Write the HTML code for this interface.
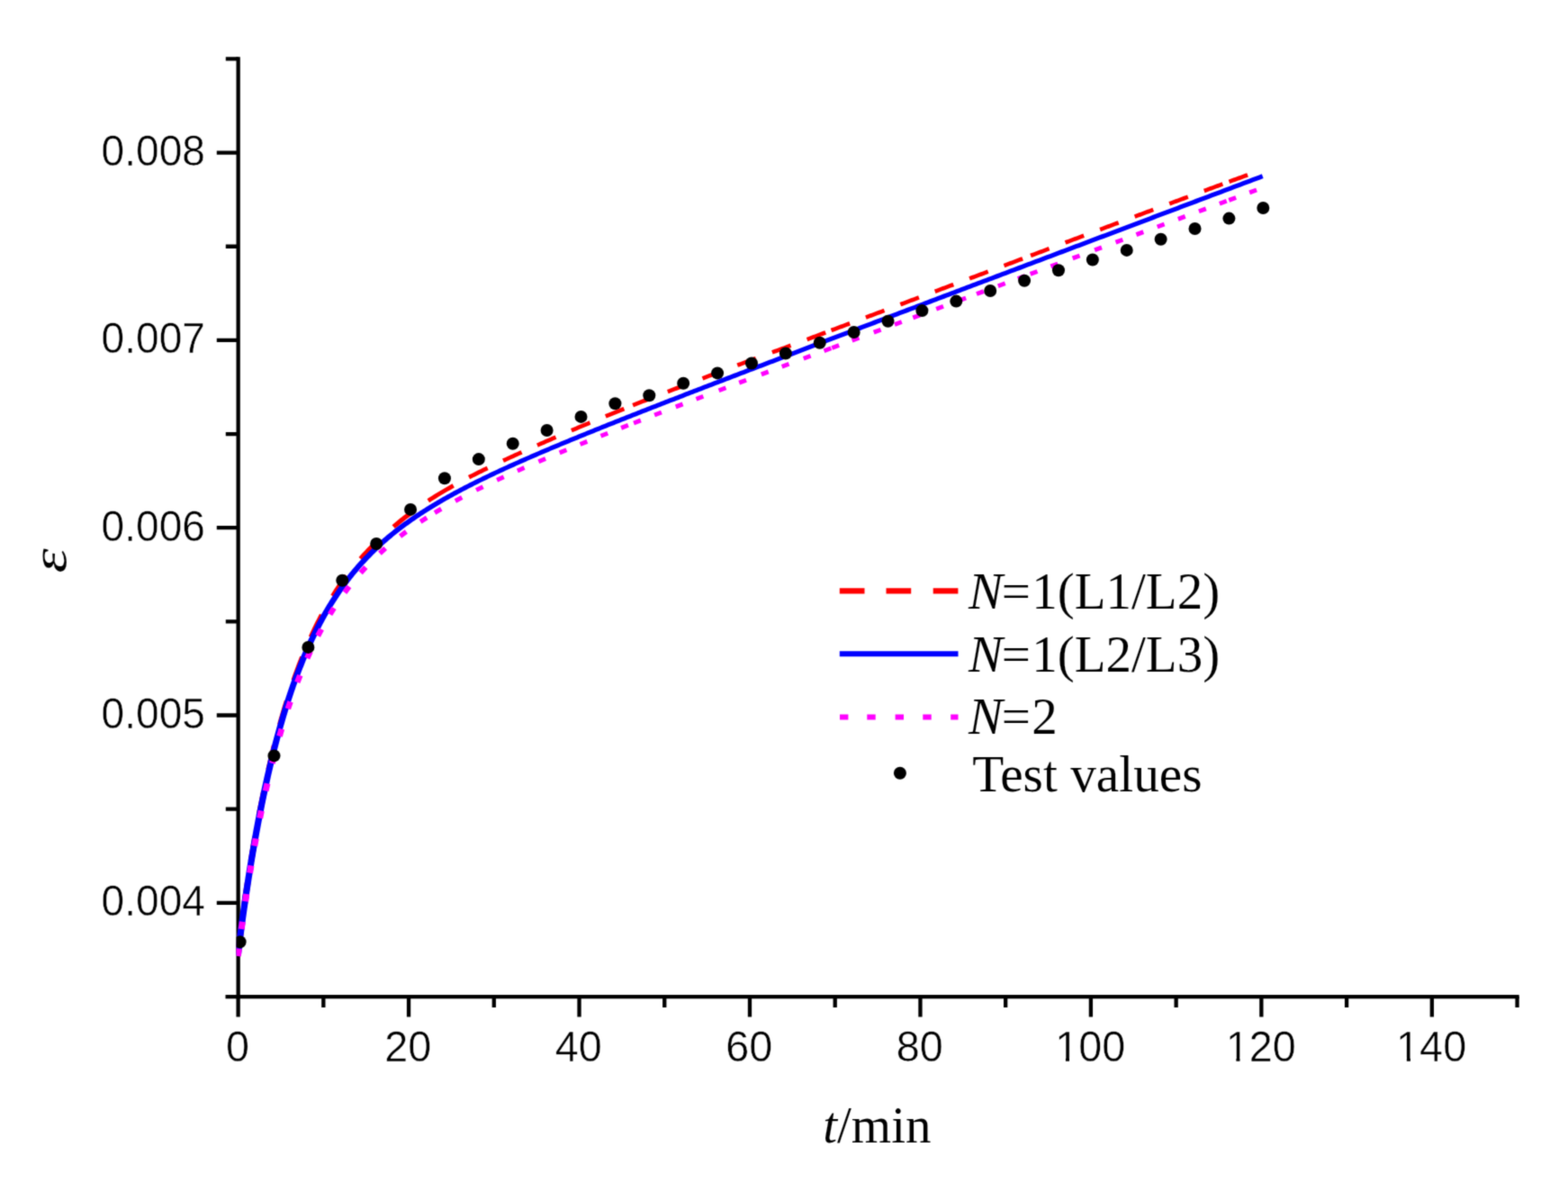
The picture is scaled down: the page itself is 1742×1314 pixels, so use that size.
<!DOCTYPE html>
<html lang="en"><head><meta charset="utf-8"><title>Creep curve fit</title>
<style>html,body{margin:0;padding:0;background:#fff}body{width:1742px;height:1314px;overflow:hidden}svg{display:block}.thin2{stroke:#fff;stroke-width:0.5px;paint-order:fill stroke;stroke-linejoin:round}.thin{stroke:#fff;stroke-width:0.1px;paint-order:fill stroke;stroke-linejoin:round}.sans{font-family:"Liberation Sans",sans-serif}.serif{font-family:"Liberation Serif",serif}</style></head><body>
<svg width="1742" height="1314" viewBox="0 0 1742 1314">
<rect width="1742" height="1314" fill="#fff"/>
<defs><clipPath id="plot"><rect x="262.6" y="60" width="1430" height="1046"/></clipPath><filter id="soft" x="0" y="0" width="1742" height="1314" filterUnits="userSpaceOnUse" color-interpolation-filters="sRGB"><feConvolveMatrix order="3" kernelMatrix="0.02890 0.11220 0.02890 0.11220 0.43560 0.11220 0.02890 0.11220 0.02890" divisor="1" edgeMode="duplicate" preserveAlpha="false"/></filter></defs>
<g filter="url(#soft)">
<rect width="1742" height="1314" fill="#fff"/>
<g stroke="#000" stroke-width="4.3" fill="none" stroke-linecap="butt">
<path d="M264.65,63.3 V1109.2"/>
<path d="M250.5,1107.05 H1687.7"/>
<path d="M240.8,1002.80 H264.65M240.8,794.50 H264.65M240.8,586.20 H264.65M240.8,377.90 H264.65M240.8,169.60 H264.65M250.8,898.65 H264.65M250.8,690.35 H264.65M250.8,482.05 H264.65M250.8,273.75 H264.65M250.8,65.45 H264.65M264.60,1107.05 V1129.6M454.06,1107.05 V1129.6M643.52,1107.05 V1129.6M832.98,1107.05 V1129.6M1022.44,1107.05 V1129.6M1211.90,1107.05 V1129.6M1401.36,1107.05 V1129.6M1590.82,1107.05 V1129.6M359.33,1107.05 V1118.9M548.79,1107.05 V1118.9M738.25,1107.05 V1118.9M927.71,1107.05 V1118.9M1117.17,1107.05 V1118.9M1306.63,1107.05 V1118.9M1496.09,1107.05 V1118.9M1685.55,1107.05 V1118.9"/>
</g>
<g class="sans thin2" font-size="48.4" fill="#000">
<text transform="translate(227.90,1017.20) scale(0.952,1)" text-anchor="end">0.004</text>
<text transform="translate(227.90,808.90) scale(0.952,1)" text-anchor="end">0.005</text>
<text transform="translate(227.90,600.60) scale(0.952,1)" text-anchor="end">0.006</text>
<text transform="translate(227.90,392.30) scale(0.952,1)" text-anchor="end">0.007</text>
<text transform="translate(227.90,184.00) scale(0.952,1)" text-anchor="end">0.008</text>
</g>
<g class="sans thin2" font-size="47.5" fill="#000">
<text transform="translate(263.90,1179.00) scale(0.985,1)" text-anchor="middle">0</text>
<text transform="translate(453.36,1179.00) scale(0.985,1)" text-anchor="middle">20</text>
<text transform="translate(642.82,1179.00) scale(0.985,1)" text-anchor="middle">40</text>
<text transform="translate(832.28,1179.00) scale(0.985,1)" text-anchor="middle">60</text>
<text transform="translate(1021.74,1179.00) scale(0.985,1)" text-anchor="middle">80</text>
<text transform="translate(1211.20,1179.00) scale(0.985,1)" text-anchor="middle">100</text>
<text transform="translate(1400.66,1179.00) scale(0.985,1)" text-anchor="middle">120</text>
<text transform="translate(1590.12,1179.00) scale(0.985,1)" text-anchor="middle">140</text>
</g>
<rect x="1174.77" y="1174.70" width="9.15" height="5.1" fill="#fff"/>
<rect x="1188.02" y="1174.70" width="9.1" height="5.1" fill="#fff"/>
<rect x="1364.23" y="1174.70" width="9.15" height="5.1" fill="#fff"/>
<rect x="1377.48" y="1174.70" width="9.1" height="5.1" fill="#fff"/>
<rect x="1553.69" y="1174.70" width="9.15" height="5.1" fill="#fff"/>
<rect x="1566.94" y="1174.70" width="9.1" height="5.1" fill="#fff"/>
<text class="serif thin" font-size="57.0" x="914.2" y="1268.5" fill="#000"><tspan font-style="italic">t</tspan>/min</text>
<text class="serif thin" font-size="57.0" font-style="italic" fill="#000" transform="translate(73.0,636.6) rotate(-90) scale(1.22,0.98)">ε</text>
<g clip-path="url(#plot)" fill="none">
<g stroke="#f00">
<path d="M558.98,511.70 L560.85,510.84 L562.73,509.97 L564.60,509.11 L566.47,508.25 L568.34,507.40 L570.22,506.54 L572.09,505.69 L573.96,504.84 L575.83,504.00 L577.71,503.15 L579.58,502.31 M596.92,494.58 L598.79,493.75 L600.67,492.93 L602.54,492.11 L604.41,491.29 L606.28,490.47 L608.16,489.65 L610.03,488.83 L611.90,488.02 L613.77,487.20 L615.65,486.39 L617.52,485.58 M634.86,478.14 L636.73,477.35 L638.61,476.55 L640.48,475.76 L642.35,474.97 L644.22,474.18 L646.10,473.39 L647.97,472.61 L649.84,471.82 L651.71,471.04 L653.59,470.26 L655.46,469.48 M672.80,462.32 L674.67,461.56 L676.55,460.80 L678.42,460.04 L680.29,459.28 L682.16,458.52 L684.04,457.77 L685.91,457.01 L687.78,456.26 L689.65,455.51 L691.53,454.76 L693.40,454.01 M703.10,450.16 L704.97,449.42 L706.85,448.68 L708.72,447.94 L710.59,447.20 L712.46,446.47 L714.34,445.73 L716.21,445.00 L718.08,444.27 L719.95,443.54 L721.83,442.81 L723.70,442.08 M741.80,435.07 L743.67,434.35 L745.55,433.63 L747.42,432.91 L749.29,432.19 L751.16,431.48 L753.04,430.76 L754.91,430.04 L756.78,429.33 L758.65,428.61 L760.53,427.90 L762.40,427.18 M780.50,420.30 L782.37,419.59 L784.25,418.88 L786.12,418.17 L787.99,417.46 L789.86,416.75 L791.74,416.04 L793.61,415.33 L795.48,414.62 L797.35,413.91 L799.23,413.20 L801.10,412.49 M819.20,405.70 L821.07,405.00 L822.95,404.30 L824.82,403.61 L826.69,402.91 L828.56,402.21 L830.44,401.52 L832.31,400.83 L834.18,400.13 L836.05,399.44 L837.93,398.75 L839.80,398.05 M857.90,391.38 L859.77,390.69 L861.65,390.00 L863.52,389.31 L865.39,388.61 L867.26,387.92 L869.14,387.23 L871.01,386.54 L872.88,385.85 L874.75,385.16 L876.63,384.46 L878.50,383.77 M896.60,377.04 L898.47,376.34 L900.35,375.63 L902.22,374.93 L904.09,374.23 L905.96,373.53 L907.84,372.83 L909.71,372.13 L911.58,371.43 L913.45,370.73 L915.33,370.03 L917.20,369.32 M923.50,366.97 L925.37,366.27 L927.25,365.57 L929.12,364.87 L930.99,364.17 L932.86,363.47 L934.74,362.77 L936.61,362.07 L938.48,361.37 L940.35,360.67 L942.23,359.97 L944.10,359.27 M961.90,352.61 L963.77,351.91 L965.65,351.21 L967.52,350.51 L969.39,349.81 L971.26,349.11 L973.14,348.41 L975.01,347.70 L976.88,347.00 L978.75,346.30 L980.63,345.60 L982.50,344.89 M1000.30,338.20 L1002.17,337.49 L1004.05,336.79 L1005.92,336.08 L1007.79,335.37 L1009.66,334.67 L1011.54,333.96 L1013.41,333.26 L1015.28,332.55 L1017.15,331.85 L1019.03,331.14 L1020.90,330.44 M1038.70,323.75 L1040.57,323.05 L1042.45,322.35 L1044.32,321.65 L1046.19,320.94 L1048.06,320.24 L1049.94,319.54 L1051.81,318.84 L1053.68,318.14 L1055.55,317.44 L1057.43,316.74 L1059.30,316.03 M1077.10,309.38 L1078.97,308.68 L1080.85,307.98 L1082.72,307.28 L1084.59,306.58 L1086.46,305.88 L1088.34,305.18 L1090.21,304.49 L1092.08,303.79 L1093.95,303.09 L1095.83,302.39 L1097.70,301.69 M1115.50,295.05 L1117.37,294.35 L1119.25,293.64 L1121.12,292.94 L1122.99,292.24 L1124.86,291.54 L1126.74,290.83 L1128.61,290.13 L1130.48,289.43 L1132.35,288.72 L1134.23,288.02 L1136.10,287.32 M1145.00,283.97 L1146.87,283.26 L1148.75,282.56 L1150.62,281.85 L1152.49,281.15 L1154.36,280.44 L1156.24,279.74 L1158.11,279.03 L1159.98,278.33 L1161.85,277.62 L1163.73,276.92 L1165.60,276.21 M1183.55,269.46 L1185.42,268.76 L1187.30,268.06 L1189.17,267.35 L1191.04,266.65 L1192.91,265.95 L1194.79,265.25 L1196.66,264.55 L1198.53,263.85 L1200.40,263.14 L1202.28,262.44 L1204.15,261.74 M1222.10,255.02 L1223.97,254.32 L1225.85,253.62 L1227.72,252.92 L1229.59,252.22 L1231.46,251.52 L1233.34,250.81 L1235.21,250.11 L1237.08,249.41 L1238.95,248.71 L1240.83,248.01 L1242.70,247.31 M1260.65,240.60 L1262.52,239.90 L1264.40,239.20 L1266.27,238.50 L1268.14,237.80 L1270.01,237.11 L1271.89,236.41 L1273.76,235.71 L1275.63,235.01 L1277.50,234.32 L1279.38,233.62 L1281.25,232.92 M1299.20,226.26 L1301.07,225.57 L1302.95,224.87 L1304.82,224.18 L1306.69,223.49 L1308.56,222.80 L1310.44,222.10 L1312.31,221.41 L1314.18,220.72 L1316.05,220.03 L1317.93,219.34 L1319.80,218.65 M1337.75,212.03 L1339.62,211.34 L1341.50,210.65 L1343.37,209.96 L1345.24,209.27 L1347.11,208.59 L1348.99,207.90 L1350.86,207.21 L1352.73,206.52 L1354.60,205.83 L1356.48,205.15 L1358.35,204.46 M1365.50,201.84 L1367.37,201.15 L1369.25,200.46 L1371.12,199.78 L1372.99,199.09 L1374.86,198.41 L1376.74,197.72 L1378.61,197.04 L1380.48,196.35 L1382.35,195.67 L1384.23,194.98 L1386.10,194.30" stroke-width="4.6"/>
<path d="M521.04,530.15 L522.91,529.19 L524.79,528.23 L526.66,527.28 L528.53,526.34 L530.40,525.40 L532.28,524.47 L534.15,523.54 L536.02,522.62 L537.89,521.71 L539.77,520.80 L541.64,519.89" stroke-width="4.7"/>
<path d="M475.80,556.26 L478.34,554.61 L480.87,552.99 L483.41,551.39 L485.95,549.82 L488.48,548.27 L491.02,546.74 L493.55,545.23 L496.09,543.75 L498.63,542.30 L501.16,540.86 L503.70,539.44" stroke-width="4.8"/>
<path d="M437.20,585.11 L438.95,583.62 L440.71,582.15 L442.46,580.70 L444.22,579.26 L445.97,577.85 L447.73,576.46 L449.48,575.08 L451.24,573.73 L452.99,572.38 L454.75,571.06 L456.50,569.74" stroke-width="5.2"/>
<path d="M400.60,620.79 L402.32,618.86 L404.04,616.96 L405.75,615.10 L407.47,613.26 L409.19,611.46 L410.91,609.68 L412.63,607.93 L414.35,606.20 L416.06,604.50 L417.78,602.82 L419.50,601.16" stroke-width="5.5"/>
<path d="M369.84,662.28 L371.24,660.04 L372.64,657.85 L374.04,655.69 L375.44,653.56 L376.84,651.47 L378.24,649.42 L379.64,647.40 L381.05,645.41 L382.45,643.46 L383.85,641.54 L385.25,639.65" stroke-width="5.8"/>
<path d="M345.66,707.83 L346.76,705.42 L347.87,703.04 L348.97,700.71 L350.08,698.40 L351.19,696.13 L352.29,693.89 L353.40,691.68 L354.50,689.51 L355.61,687.36 L356.71,685.25 L357.82,683.16" stroke-width="6.1"/>
<path d="M326.56,755.74 L327.44,753.25 L328.31,750.79 L329.19,748.36 L330.06,745.97 L330.94,743.60 L331.82,741.26 L332.69,738.95 L333.57,736.67 L334.44,734.41 L335.32,732.19 L336.19,729.99" stroke-width="6.3"/>
<path d="M311.23,805.00 L311.93,802.47 L312.64,799.97 L313.35,797.50 L314.05,795.05 L314.76,792.62 L315.47,790.23 L316.17,787.86 L316.88,785.51 L317.59,783.19 L318.29,780.90 L319.00,778.62" stroke-width="6.4"/>
<path d="M298.65,855.04 L299.23,852.50 L299.82,849.97 L300.40,847.47 L300.98,845.00 L301.56,842.55 L302.15,840.12 L302.73,837.71 L303.31,835.32 L303.90,832.96 L304.48,830.62 L305.06,828.30" stroke-width="6.6"/>
<path d="M264.58,1058.52 L264.88,1055.85 L265.18,1053.23 L265.49,1050.65 L265.79,1048.11 L266.09,1045.60 L266.40,1043.13 L266.70,1040.70 L267.01,1038.29 L267.31,1035.91 L267.61,1033.55 L267.92,1031.22 M271.19,1007.34 L271.55,1004.78 L271.92,1002.23 L272.29,999.70 L272.66,997.20 L273.03,994.71 L273.39,992.24 L273.76,989.79 L274.13,987.35 L274.50,984.93 L274.87,982.53 L275.23,980.14 M279.04,956.34 L279.46,953.79 L279.89,951.26 L280.31,948.74 L280.73,946.24 L281.16,943.76 L281.58,941.30 L282.00,938.85 L282.43,936.43 L282.85,934.01 L283.27,931.62 L283.70,929.24 M288.09,905.55 L288.58,903.00 L289.07,900.47 L289.57,897.96 L290.06,895.47 L290.55,893.00 L291.04,890.55 L291.53,888.11 L292.03,885.70 L292.52,883.31 L293.01,880.94 L293.50,878.58" stroke-width="6.7"/>
</g>
<path d="M260.72,1060.59 L260.72,1060.58 L260.73,1060.56 L260.73,1060.53 L260.74,1060.47 L260.75,1060.40 L260.76,1060.31 L260.77,1060.19 L260.78,1060.06 L260.80,1059.90 L260.82,1059.72 L260.85,1059.52 L260.87,1059.30 L260.90,1059.05 L260.93,1058.78 L260.97,1058.49 L261.00,1058.17 L261.04,1057.83 L261.09,1057.46 L261.13,1057.07 L261.18,1056.65 L261.23,1056.21 L261.29,1055.75 L261.35,1055.26 L261.41,1054.74 L261.47,1054.20 L261.54,1053.64 L261.61,1053.05 L261.69,1052.43 L261.76,1051.79 L261.84,1051.13 L261.93,1050.44 L262.01,1049.73 L262.10,1048.99 L262.20,1048.22 L262.30,1047.44 L262.40,1046.62 L262.50,1045.79 L262.61,1044.93 L262.72,1044.04 L262.83,1043.13 L262.95,1042.20 L263.07,1041.25 L263.20,1040.27 L263.32,1039.26 L263.46,1038.24 L263.59,1037.19 L263.73,1036.11 L263.87,1035.02 L264.02,1033.90 L264.17,1032.76 L264.32,1031.59 L264.48,1030.40 L264.64,1029.19 L264.80,1027.96 L264.97,1026.71 L265.14,1025.43 L265.32,1024.14 L265.50,1022.82 L265.68,1021.48 L265.87,1020.12 L266.06,1018.73 L266.25,1017.33 L266.45,1015.91 L266.65,1014.46 L266.86,1012.99 L267.07,1011.51 L267.28,1010.00 L267.50,1008.48 L267.72,1006.93 L267.94,1005.36 L268.17,1003.78 L268.40,1002.17 L268.64,1000.55 L268.88,998.91 L269.12,997.24 L269.37,995.56 L269.63,993.87 L269.88,992.15 L270.14,990.41 L270.41,988.66 L270.67,986.89 L270.95,985.11 L271.22,983.30 L271.50,981.48 L271.79,979.64 L272.08,977.79 L272.37,975.92 L272.66,974.03 L272.97,972.13 L273.27,970.21 L273.58,968.28 L273.89,966.34 L274.21,964.38 L274.53,962.40 L274.85,960.41 L275.18,958.41 L275.52,956.39 L275.85,954.36 L276.20,952.32 L276.54,950.27 L276.89,948.20 L277.25,946.12 L277.61,944.03 L277.97,941.93 L278.34,939.81 L278.71,937.69 L279.08,935.56 L279.46,933.41 L279.85,931.26 L280.23,929.09 L280.63,926.92 L281.02,924.74 L281.42,922.55 L281.83,920.35 L282.24,918.14 L282.65,915.93 L283.07,913.71 L283.49,911.48 L283.92,909.24 L284.35,907.00 L284.79,904.75 L285.23,902.50 L285.67,900.24 L286.12,897.97 L286.57,895.70 L287.03,893.43 L287.50,891.15 L287.97,888.87 L288.44,886.59 L288.92,884.30 L289.40,882.01 L289.89,879.71 L290.38,877.41 L290.88,875.11 L291.38,872.81 L291.88,870.51 L292.39,868.21 L292.91,865.90 L293.42,863.59 L293.95,861.29 L294.47,858.98 L295.01,856.67 L295.54,854.37 L296.08,852.06 L296.63,849.75 L297.18,847.45 L297.73,845.15 L298.29,842.85 L298.85,840.55 L299.42,838.25 L299.99,835.95 L300.57,833.66 L301.15,831.37 L301.74,829.09 L302.33,826.80 L302.92,824.52 L303.52,822.25 L304.13,819.97 L304.74,817.71 L305.35,815.44 L305.97,813.18 L306.59,810.93 L307.22,808.68 L307.85,806.44 L308.49,804.20 L309.13,801.97 L309.78,799.74 L310.43,797.52 L311.08,795.31 L311.74,793.10 L312.41,790.90 L313.08,788.70 L313.75,786.51 L314.43,784.33 L315.11,782.16 L315.80,779.99 L316.49,777.83 L317.19,775.68 L317.89,773.54 L318.60,771.40 L319.31,769.27 L320.03,767.16 L320.75,765.04 L321.48,762.94 L322.21,760.85 L322.94,758.76 L323.68,756.69 L324.43,754.62 L325.18,752.56 L325.93,750.51 L326.69,748.47 L327.46,746.44 L328.23,744.42 L329.00,742.41 L329.78,740.41 L330.56,738.42 L331.35,736.44 L332.15,734.47 L332.94,732.50 L333.75,730.55 L334.55,728.61 L335.37,726.68 L336.19,724.76 L337.01,722.85 L337.84,720.94 L338.67,719.05 L339.51,717.17 L340.35,715.31 L341.20,713.45 L342.05,711.60 L342.91,709.77 L343.78,707.94 L344.65,706.13 L345.53,704.32 L346.41,702.53 L347.30,700.75 L348.19,698.98 L349.08,697.22 L349.98,695.47 L350.89,693.73 L351.80,692.00 L352.71,690.28 L353.63,688.57 L354.56,686.88 L355.49,685.19 L356.43,683.52 L357.37,681.86 L358.31,680.20 L359.26,678.56 L360.22,676.93 L361.18,675.31 L362.14,673.70 L363.11,672.10 L364.08,670.51 L365.06,668.93 L366.05,667.37 L367.04,665.81 L368.03,664.26 L369.03,662.73 L370.04,661.20 L371.05,659.69 L372.06,658.18 L373.08,656.69 L374.11,655.21 L375.14,653.73 L376.17,652.27 L377.21,650.81 L378.26,649.37 L379.31,647.94 L380.36,646.51 L381.42,645.10 L382.49,643.70 L383.56,642.30 L384.63,640.92 L385.71,639.54 L386.80,638.18 L387.89,636.82 L388.98,635.48 L390.08,634.14 L391.19,632.81 L392.30,631.50 L393.41,630.19 L394.53,628.89 L395.66,627.60 L396.79,626.32 L397.93,625.04 L399.07,623.78 L400.21,622.52 L401.36,621.28 L402.52,620.04 L403.68,618.81 L404.85,617.59 L406.02,616.38 L407.19,615.17 L408.37,613.98 L409.56,612.79 L410.76,611.61 L411.96,610.44 L413.16,609.28 L414.37,608.13 L415.59,606.99 L416.81,605.85 L418.03,604.72 L419.26,603.60 L420.50,602.48 L421.74,601.37 L422.98,600.27 L424.23,599.18 L425.49,598.09 L426.75,597.01 L428.01,595.94 L429.28,594.87 L430.56,593.81 L431.84,592.76 L433.13,591.71 L434.42,590.67 L435.71,589.63 L437.01,588.61 L438.32,587.58 L439.63,586.57 L440.94,585.56 L442.26,584.55 L443.59,583.55 L444.92,582.56 L446.25,581.57 L447.59,580.59 L448.94,579.61 L450.29,578.64 L451.64,577.67 L453.00,576.71 L454.37,575.76 L455.74,574.80 L457.12,573.86 L458.50,572.92 L459.88,571.98 L461.27,571.04 L462.67,570.12 L464.07,569.19 L465.48,568.27 L466.89,567.36 L468.31,566.45 L469.73,565.54 L471.15,564.64 L472.59,563.74 L474.02,562.84 L475.47,561.95 L476.91,561.06 L478.36,560.18 L479.82,559.30 L481.28,558.42 L482.75,557.54 L484.23,556.67 L485.70,555.81 L487.19,554.94 L488.68,554.08 L490.17,553.22 L491.67,552.37 L493.17,551.51 L494.68,550.66 L496.19,549.82 L497.71,548.97 L499.24,548.13 L500.77,547.29 L502.30,546.46 L503.84,545.62 L505.39,544.79 L506.94,543.96 L508.50,543.13 L510.06,542.30 L511.62,541.48 L513.19,540.66 L514.77,539.84 L516.35,539.02 L517.94,538.21 L519.53,537.39 L521.13,536.58 L522.73,535.77 L524.34,534.96 L525.96,534.15 L527.57,533.34 L529.20,532.54 L530.83,531.74 L532.46,530.93 L534.10,530.13 L535.75,529.33 L537.40,528.53 L539.06,527.73 L540.72,526.94 L542.38,526.14 L544.06,525.35 L545.73,524.55 L547.41,523.76 L549.10,522.97 L550.80,522.17 L552.49,521.38 L554.20,520.59 L555.91,519.80 L557.62,519.01 L559.34,518.22 L561.07,517.44 L562.80,516.65 L564.54,515.86 L566.28,515.07 L568.02,514.29 L569.78,513.50 L571.53,512.71 L573.30,511.92 L575.06,511.14 L576.84,510.35 L578.62,509.56 L580.40,508.78 L582.19,507.99 L583.98,507.20 L585.79,506.41 L587.59,505.63 L589.40,504.84 L591.22,504.05 L593.04,503.26 L594.87,502.48 L596.70,501.69 L598.54,500.90 L600.39,500.11 L602.23,499.32 L604.09,498.53 L605.95,497.74 L607.82,496.95 L609.69,496.16 L611.57,495.37 L613.45,494.58 L615.34,493.78 L617.23,492.99 L619.13,492.20 L621.03,491.40 L622.94,490.61 L624.86,489.81 L626.78,489.01 L628.71,488.22 L630.64,487.42 L632.57,486.62 L634.52,485.82 L636.47,485.02 L638.42,484.22 L640.38,483.41 L642.35,482.61 L644.32,481.81 L646.29,481.00 L648.27,480.19 L650.26,479.39 L652.25,478.58 L654.25,477.77 L656.26,476.96 L658.27,476.15 L660.28,475.34 L662.30,474.52 L664.33,473.71 L666.36,472.89 L668.40,472.07 L670.44,471.26 L672.49,470.44 L674.54,469.62 L676.60,468.79 L678.67,467.97 L680.74,467.15 L682.82,466.32 L684.90,465.49 L686.99,464.66 L689.08,463.83 L691.18,463.00 L693.28,462.17 L695.39,461.34 L697.51,460.50 L699.63,459.66 L701.76,458.83 L703.89,457.99 L706.03,457.15 L708.17,456.30 L710.32,455.46 L712.48,454.61 L714.64,453.77 L716.80,452.92 L718.97,452.07 L721.15,451.22 L723.34,450.36 L725.52,449.51 L727.72,448.65 L729.92,447.80 L732.13,446.94 L734.34,446.08 L736.55,445.21 L738.78,444.35 L741.01,443.48 L743.24,442.62 L745.48,441.75 L747.73,440.88 L749.98,440.00 L752.23,439.13 L754.50,438.25 L756.77,437.38 L759.04,436.50 L761.32,435.62 L763.61,434.73 L765.90,433.85 L768.19,432.96 L770.50,432.07 L772.80,431.18 L775.12,430.29 L777.44,429.40 L779.76,428.51 L782.09,427.61 L784.43,426.71 L786.77,425.81 L789.12,424.91 L791.48,424.00 L793.84,423.10 L796.20,422.19 L798.57,421.28 L800.95,420.37 L803.33,419.46 L805.72,418.54 L808.12,417.62 L810.52,416.70 L812.92,415.78 L815.33,414.86 L817.75,413.94 L820.17,413.01 L822.60,412.08 L825.04,411.15 L827.48,410.22 L829.92,409.29 L832.37,408.35 L834.83,407.41 L837.29,406.47 L839.76,405.53 L842.24,404.59 L844.72,403.64 L847.21,402.69 L849.70,401.74 L852.20,400.79 L854.70,399.84 L857.21,398.88 L859.72,397.93 L862.25,396.97 L864.77,396.01 L867.31,395.04 L869.84,394.08 L872.39,393.11 L874.94,392.14 L877.50,391.17 L880.06,390.20 L882.62,389.22 L885.20,388.24 L887.78,387.26 L890.36,386.28 L892.95,385.30 L895.55,384.31 L898.15,383.32 L900.76,382.34 L903.38,381.34 L906.00,380.35 L908.62,379.35 L911.25,378.36 L913.89,377.36 L916.53,376.35 L919.18,375.35 L921.84,374.34 L924.50,373.34 L927.17,372.32 L929.84,371.31 L932.52,370.30 L935.20,369.28 L937.89,368.26 L940.59,367.24 L943.29,366.22 L946.00,365.19 L948.71,364.17 L951.43,363.14 L954.16,362.11 L956.89,361.07 L959.63,360.04 L962.37,359.00 L965.12,357.96 L967.87,356.92 L970.63,355.87 L973.40,354.83 L976.17,353.78 L978.95,352.73 L981.73,351.68 L984.52,350.62 L987.32,349.56 L990.12,348.50 L992.93,347.44 L995.74,346.38 L998.56,345.31 L1001.39,344.25 L1004.22,343.18 L1007.06,342.11 L1009.90,341.03 L1012.75,339.95 L1015.61,338.88 L1018.47,337.80 L1021.34,336.71 L1024.21,335.63 L1027.09,334.54 L1029.97,333.45 L1032.86,332.36 L1035.76,331.27 L1038.66,330.17 L1041.57,329.07 L1044.49,327.97 L1047.41,326.87 L1050.33,325.77 L1053.26,324.66 L1056.20,323.55 L1059.15,322.44 L1062.10,321.33 L1065.05,320.21 L1068.02,319.09 L1070.98,317.97 L1073.96,316.85 L1076.94,315.73 L1079.92,314.60 L1082.92,313.47 L1085.91,312.34 L1088.92,311.21 L1091.93,310.07 L1094.94,308.93 L1097.97,307.79 L1100.99,306.65 L1104.03,305.51 L1107.07,304.36 L1110.11,303.21 L1113.16,302.06 L1116.22,300.91 L1119.29,299.75 L1122.36,298.59 L1125.43,297.43 L1128.51,296.27 L1131.60,295.11 L1134.69,293.94 L1137.79,292.77 L1140.90,291.60 L1144.01,290.43 L1147.13,289.25 L1150.25,288.07 L1153.38,286.89 L1156.52,285.71 L1159.66,284.53 L1162.81,283.34 L1165.96,282.15 L1169.12,280.96 L1172.29,279.77 L1175.46,278.57 L1178.64,277.37 L1181.82,276.17 L1185.01,274.97 L1188.21,273.77 L1191.41,272.56 L1194.62,271.35 L1197.83,270.14 L1201.05,268.93 L1204.28,267.71 L1207.51,266.49 L1210.75,265.27 L1213.99,264.05 L1217.24,262.82 L1220.50,261.60 L1223.76,260.37 L1227.03,259.13 L1230.30,257.90 L1233.59,256.66 L1236.87,255.42 L1240.17,254.18 L1243.46,252.94 L1246.77,251.70 L1250.08,250.45 L1253.40,249.20 L1256.72,247.95 L1260.05,246.69 L1263.38,245.43 L1266.73,244.17 L1270.07,242.91 L1273.43,241.65 L1276.79,240.38 L1280.15,239.12 L1283.52,237.84 L1286.90,236.57 L1290.29,235.30 L1293.68,234.02 L1297.07,232.74 L1300.47,231.46 L1303.88,230.17 L1307.30,228.89 L1310.72,227.60 L1314.14,226.31 L1317.58,225.01 L1321.02,223.72 L1324.46,222.42 L1327.91,221.12 L1331.37,219.82 L1334.83,218.51 L1338.30,217.20 L1341.78,215.90 L1345.26,214.58 L1348.75,213.27 L1352.24,211.95 L1355.74,210.63 L1359.25,209.31 L1362.76,207.99 L1366.28,206.66 L1369.80,205.34 L1373.33,204.01 L1376.87,202.67 L1380.41,201.34 L1383.96,200.00 L1387.52,198.66 L1391.08,197.32 L1394.65,195.98 L1398.22,194.63 L1401.80,193.28 L1403.60,198.05 L1400.02,199.40 L1396.45,200.75 L1392.88,202.09 L1389.32,203.43 L1385.76,204.77 L1382.21,206.11 L1378.67,207.45 L1375.13,208.78 L1371.60,210.11 L1368.08,211.44 L1364.56,212.76 L1361.05,214.09 L1357.54,215.41 L1354.04,216.73 L1350.55,218.04 L1347.06,219.36 L1343.58,220.67 L1340.10,221.98 L1336.63,223.28 L1333.17,224.59 L1329.71,225.89 L1326.26,227.19 L1322.81,228.49 L1319.38,229.79 L1315.94,231.08 L1312.52,232.37 L1309.10,233.66 L1305.68,234.95 L1302.27,236.23 L1298.87,237.51 L1295.47,238.79 L1292.08,240.07 L1288.70,241.34 L1285.32,242.62 L1281.95,243.89 L1278.59,245.16 L1275.23,246.42 L1271.87,247.69 L1268.52,248.95 L1265.18,250.21 L1261.85,251.46 L1258.52,252.72 L1255.20,253.97 L1251.88,255.22 L1248.57,256.47 L1245.26,257.71 L1241.96,258.96 L1238.67,260.20 L1235.38,261.44 L1232.10,262.67 L1228.83,263.91 L1225.56,265.14 L1222.30,266.37 L1219.04,267.60 L1215.79,268.82 L1212.55,270.04 L1209.31,271.26 L1206.08,272.48 L1202.85,273.70 L1199.63,274.91 L1196.42,276.12 L1193.21,277.33 L1190.01,278.54 L1186.81,279.74 L1183.62,280.95 L1180.44,282.15 L1177.26,283.34 L1174.09,284.54 L1170.92,285.73 L1167.76,286.92 L1164.61,288.11 L1161.46,289.30 L1158.32,290.48 L1155.18,291.67 L1152.05,292.85 L1148.93,294.02 L1145.81,295.20 L1142.70,296.37 L1139.59,297.54 L1136.49,298.71 L1133.40,299.88 L1130.31,301.04 L1127.23,302.21 L1124.15,303.37 L1121.08,304.52 L1118.02,305.68 L1114.96,306.83 L1111.91,307.98 L1108.87,309.13 L1105.83,310.28 L1102.79,311.42 L1099.77,312.56 L1096.74,313.70 L1093.73,314.84 L1090.72,315.98 L1087.71,317.11 L1084.72,318.24 L1081.72,319.37 L1078.74,320.50 L1075.76,321.62 L1072.78,322.74 L1069.82,323.86 L1066.85,324.98 L1063.90,326.10 L1060.95,327.21 L1058.00,328.32 L1055.07,329.43 L1052.13,330.54 L1049.21,331.64 L1046.29,332.74 L1043.37,333.84 L1040.46,334.94 L1037.56,336.04 L1034.66,337.13 L1031.77,338.22 L1028.89,339.31 L1026.01,340.40 L1023.14,341.48 L1020.27,342.57 L1017.41,343.65 L1014.55,344.73 L1011.70,345.80 L1008.86,346.88 L1006.02,347.95 L1003.19,349.02 L1000.37,350.09 L997.55,351.15 L994.73,352.21 L991.93,353.28 L989.12,354.33 L986.33,355.39 L983.54,356.45 L980.75,357.50 L977.98,358.55 L975.20,359.60 L972.44,360.64 L969.68,361.69 L966.92,362.73 L964.17,363.77 L961.43,364.81 L958.69,365.84 L955.96,366.88 L953.24,367.91 L950.52,368.94 L947.80,369.96 L945.10,370.99 L942.39,372.01 L939.70,373.03 L937.01,374.05 L934.32,375.07 L931.65,376.08 L928.97,377.09 L926.31,378.10 L923.65,379.11 L920.99,380.12 L918.34,381.12 L915.70,382.12 L913.06,383.12 L910.43,384.12 L907.80,385.12 L905.18,386.11 L902.57,387.10 L899.96,388.09 L897.36,389.08 L894.76,390.07 L892.17,391.05 L889.59,392.03 L887.01,393.01 L884.44,393.99 L881.87,394.96 L879.31,395.94 L876.75,396.91 L874.20,397.88 L871.66,398.84 L869.12,399.81 L866.59,400.77 L864.06,401.73 L861.54,402.69 L859.02,403.65 L856.51,404.61 L854.01,405.56 L851.51,406.51 L849.02,407.46 L846.54,408.41 L844.06,409.35 L841.58,410.30 L839.11,411.24 L836.65,412.18 L834.19,413.12 L831.74,414.05 L829.30,414.98 L826.86,415.92 L824.42,416.85 L821.99,417.77 L819.57,418.70 L817.15,419.63 L814.74,420.55 L812.34,421.47 L809.94,422.39 L807.55,423.30 L805.16,424.22 L802.78,425.13 L800.40,426.04 L798.03,426.95 L795.66,427.86 L793.30,428.76 L790.95,429.67 L788.60,430.57 L786.26,431.47 L783.93,432.37 L781.59,433.26 L779.27,434.16 L776.95,435.05 L774.64,435.94 L772.33,436.83 L770.03,437.72 L767.73,438.61 L765.44,439.49 L763.16,440.37 L760.88,441.25 L758.61,442.13 L756.34,443.01 L754.08,443.88 L751.82,444.76 L749.57,445.63 L747.32,446.50 L745.09,447.37 L742.85,448.24 L740.63,449.10 L738.40,449.97 L736.19,450.83 L733.98,451.69 L731.77,452.55 L729.57,453.40 L727.38,454.26 L725.19,455.11 L723.01,455.97 L720.83,456.82 L718.66,457.67 L716.50,458.52 L714.34,459.36 L712.18,460.21 L710.04,461.05 L707.89,461.89 L705.76,462.73 L703.62,463.57 L701.50,464.41 L699.38,465.25 L697.27,466.08 L695.16,466.91 L693.05,467.75 L690.96,468.58 L688.87,469.40 L686.78,470.23 L684.70,471.06 L682.62,471.88 L680.56,472.71 L678.49,473.53 L676.43,474.35 L674.38,475.17 L672.34,475.99 L670.29,476.81 L668.26,477.62 L666.23,478.44 L664.21,479.25 L662.19,480.07 L660.17,480.88 L658.17,481.69 L656.17,482.50 L654.17,483.31 L652.18,484.11 L650.19,484.92 L648.22,485.72 L646.24,486.53 L644.27,487.33 L642.31,488.13 L640.35,488.94 L638.40,489.74 L636.46,490.54 L634.52,491.33 L632.58,492.13 L630.65,492.93 L628.73,493.72 L626.81,494.52 L624.90,495.31 L622.99,496.11 L621.09,496.90 L619.20,497.69 L617.31,498.49 L615.42,499.28 L613.55,500.07 L611.67,500.86 L609.80,501.65 L607.94,502.44 L606.09,503.22 L604.23,504.01 L602.39,504.80 L600.55,505.59 L598.72,506.37 L596.89,507.16 L595.06,507.95 L593.25,508.73 L591.43,509.52 L589.63,510.30 L587.83,511.09 L586.03,511.87 L584.24,512.66 L582.46,513.44 L580.68,514.23 L578.90,515.01 L577.14,515.80 L575.37,516.58 L573.62,517.37 L571.86,518.15 L570.12,518.94 L568.38,519.72 L566.64,520.51 L564.92,521.30 L563.19,522.09 L561.47,522.87 L559.76,523.66 L558.06,524.45 L556.35,525.24 L554.66,526.03 L552.97,526.82 L551.28,527.61 L549.61,528.40 L547.93,529.20 L546.26,529.99 L544.60,530.78 L542.94,531.58 L541.29,532.38 L539.65,533.17 L538.01,533.97 L536.37,534.77 L534.74,535.57 L533.12,536.37 L531.50,537.18 L529.88,537.98 L528.28,538.78 L526.68,539.59 L525.08,540.40 L523.49,541.21 L521.90,542.02 L520.32,542.83 L518.75,543.65 L517.18,544.47 L515.61,545.28 L514.06,546.11 L512.50,546.93 L510.96,547.75 L509.41,548.58 L507.88,549.41 L506.35,550.24 L504.82,551.07 L503.30,551.90 L501.79,552.74 L500.28,553.58 L498.77,554.42 L497.28,555.27 L495.78,556.12 L494.30,556.97 L492.81,557.82 L491.34,558.68 L489.87,559.54 L488.40,560.40 L486.94,561.26 L485.49,562.13 L484.04,563.00 L482.59,563.88 L481.16,564.75 L479.72,565.64 L478.30,566.52 L476.87,567.41 L475.46,568.30 L474.05,569.20 L472.64,570.10 L471.24,571.00 L469.85,571.91 L468.46,572.82 L467.07,573.74 L465.69,574.66 L464.32,575.58 L462.95,576.51 L461.59,577.44 L460.23,578.38 L458.88,579.32 L457.54,580.27 L456.20,581.22 L454.86,582.18 L453.53,583.14 L452.21,584.10 L450.89,585.07 L449.57,586.05 L448.27,587.03 L446.96,588.02 L445.67,589.01 L444.37,590.01 L443.09,591.02 L441.81,592.03 L440.53,593.04 L439.26,594.06 L437.99,595.09 L436.73,596.12 L435.48,597.16 L434.23,598.21 L432.99,599.26 L431.75,600.32 L430.51,601.39 L429.29,602.46 L428.06,603.54 L426.85,604.62 L425.63,605.71 L424.43,606.81 L423.23,607.92 L422.03,609.03 L420.84,610.15 L419.65,611.28 L418.47,612.41 L417.30,613.56 L416.13,614.71 L414.96,615.86 L413.80,617.03 L412.65,618.20 L411.49,619.38 L410.34,620.56 L409.20,621.75 L408.06,622.96 L406.93,624.16 L405.80,625.38 L404.68,626.61 L403.56,627.84 L402.45,629.09 L401.35,630.34 L400.24,631.60 L399.15,632.87 L398.05,634.15 L396.97,635.43 L395.89,636.73 L394.81,638.04 L393.74,639.35 L392.67,640.68 L391.61,642.01 L390.55,643.35 L389.50,644.70 L388.45,646.07 L387.41,647.44 L386.38,648.82 L385.34,650.21 L384.32,651.61 L383.30,653.02 L382.28,654.44 L381.27,655.87 L380.26,657.31 L379.26,658.76 L378.26,660.22 L377.27,661.70 L376.28,663.18 L375.30,664.67 L374.33,666.17 L373.35,667.68 L372.39,669.21 L371.42,670.74 L370.47,672.29 L369.51,673.84 L368.57,675.41 L367.62,676.98 L366.69,678.57 L365.75,680.17 L364.82,681.78 L363.90,683.40 L362.98,685.03 L362.07,686.67 L361.16,688.32 L360.26,689.98 L359.36,691.66 L358.47,693.34 L357.58,695.04 L356.69,696.74 L355.81,698.46 L354.94,700.19 L354.07,701.93 L353.20,703.68 L352.34,705.44 L351.49,707.21 L350.64,708.99 L349.79,710.78 L348.95,712.59 L348.12,714.40 L347.28,716.23 L346.46,718.06 L345.63,719.91 L344.81,721.77 L343.99,723.63 L343.18,725.51 L342.37,727.40 L341.57,729.29 L340.77,731.20 L339.98,733.12 L339.19,735.05 L338.41,736.99 L337.63,738.94 L336.85,740.90 L336.08,742.87 L335.32,744.85 L334.56,746.84 L333.80,748.84 L333.05,750.85 L332.30,752.86 L331.56,754.89 L330.83,756.93 L330.09,758.98 L329.37,761.03 L328.64,763.10 L327.93,765.17 L327.21,767.26 L326.50,769.35 L325.80,771.45 L325.10,773.56 L324.40,775.67 L323.71,777.80 L323.03,779.93 L322.35,782.07 L321.67,784.22 L321.00,786.38 L320.33,788.54 L319.67,790.71 L319.01,792.89 L318.36,795.07 L317.71,797.27 L317.06,799.46 L316.42,801.67 L315.79,803.88 L315.16,806.10 L314.53,808.32 L313.91,810.55 L313.29,812.78 L312.68,815.02 L312.07,817.27 L311.47,819.51 L310.87,821.77 L310.28,824.03 L309.69,826.29 L309.10,828.55 L308.52,830.82 L307.95,833.10 L307.38,835.37 L306.81,837.65 L306.25,839.93 L305.69,842.22 L305.14,844.51 L304.59,846.79 L304.04,849.09 L303.50,851.38 L302.97,853.67 L302.44,855.97 L301.91,858.26 L301.39,860.56 L300.87,862.85 L300.36,865.15 L299.85,867.44 L299.34,869.74 L298.84,872.03 L298.35,874.32 L297.85,876.61 L297.37,878.90 L296.89,881.19 L296.41,883.48 L295.93,885.76 L295.46,888.04 L295.00,890.31 L294.54,892.59 L294.08,894.85 L293.63,897.12 L293.18,899.38 L292.73,901.63 L292.29,903.88 L291.85,906.13 L291.42,908.36 L290.99,910.60 L290.57,912.82 L290.15,915.04 L289.73,917.26 L289.32,919.46 L288.91,921.66 L288.50,923.85 L288.11,926.03 L287.71,928.20 L287.32,930.37 L286.93,932.52 L286.55,934.67 L286.17,936.81 L285.80,938.93 L285.43,941.05 L285.06,943.15 L284.70,945.25 L284.34,947.33 L283.99,949.40 L283.64,951.46 L283.30,953.51 L282.96,955.55 L282.62,957.57 L282.29,959.58 L281.96,961.58 L281.64,963.56 L281.32,965.53 L281.00,967.48 L280.69,969.42 L280.38,971.35 L280.08,973.26 L279.78,975.15 L279.48,977.03 L279.19,978.90 L278.90,980.75 L278.62,982.58 L278.34,984.39 L278.06,986.19 L277.79,987.97 L277.53,989.74 L277.26,991.49 L277.00,993.21 L276.75,994.93 L276.50,996.62 L276.25,998.30 L276.00,999.95 L275.76,1001.59 L275.53,1003.21 L275.30,1004.81 L275.07,1006.39 L274.84,1007.95 L274.62,1009.49 L274.41,1011.01 L274.20,1012.52 L273.99,1014.00 L273.78,1015.46 L273.58,1016.90 L273.38,1018.32 L273.19,1019.72 L273.00,1021.10 L272.81,1022.45 L272.63,1023.79 L272.45,1025.10 L272.28,1026.40 L272.11,1027.67 L271.94,1028.92 L271.78,1030.14 L271.62,1031.35 L271.46,1032.53 L271.31,1033.69 L271.16,1034.83 L271.01,1035.95 L270.87,1037.04 L270.73,1038.11 L270.60,1039.15 L270.47,1040.18 L270.34,1041.18 L270.21,1042.15 L270.09,1043.11 L269.98,1044.03 L269.86,1044.94 L269.75,1045.82 L269.64,1046.68 L269.54,1047.51 L269.44,1048.32 L269.34,1049.10 L269.25,1049.86 L269.16,1050.60 L269.07,1051.31 L268.99,1052.00 L268.91,1052.66 L268.83,1053.29 L268.76,1053.91 L268.69,1054.49 L268.62,1055.06 L268.56,1055.59 L268.50,1056.11 L268.44,1056.59 L268.38,1057.06 L268.33,1057.50 L268.28,1057.91 L268.24,1058.30 L268.20,1058.66 L268.16,1059.00 L268.12,1059.32 L268.08,1059.61 L268.05,1059.88 L268.02,1060.13 L268.00,1060.35 L267.98,1060.55 L267.96,1060.73 L267.94,1060.89 L267.92,1061.02 L267.91,1061.13 L267.90,1061.22 L267.89,1061.30 L267.88,1061.35 L267.88,1061.39 L267.88,1061.41 L267.88,1061.41Z" fill="#00f" stroke="none"/>
<g stroke="#f0f">
<path d="M552.09,533.27 L559.71,529.74 M574.86,522.91 L582.54,519.51 M598.33,512.68 L606.07,509.40 M621.67,502.87 L629.43,499.67 M644.56,493.50 L652.34,490.36 M667.45,484.32 L675.25,481.22 M690.09,475.38 L697.91,472.32 M704.04,469.93 L711.86,466.88 M727.08,460.99 L734.92,457.97 M750.73,451.90 L758.57,448.90 M773.47,443.22 L781.33,440.24 M798.57,433.69 L806.43,430.72 M821.17,425.15 L829.03,422.19 M845.82,415.86 L853.68,412.91 M868.67,407.28 L876.53,404.33 M892.72,398.26 L900.58,395.32 M915.47,389.75 L923.33,386.81 M924.27,386.46 L932.13,383.52 M946.57,378.13 L954.43,375.19 M970.71,369.12 L978.59,366.18 M993.91,360.47 L1001.79,357.53 M1014.31,352.87 L1022.19,349.93 M1040.16,343.24 L1048.04,340.31 M1065.26,333.90 L1073.14,330.97 M1084.96,326.57 L1092.84,323.64 M1108.81,317.70 L1116.69,314.77 M1130.76,309.53 L1138.64,306.60 M1144.61,304.38 L1152.49,301.46 M1167.36,295.92 L1175.24,293.00 M1191.66,286.89 L1199.54,283.96 M1216.11,277.80 L1223.99,274.88 M1239.51,269.11 L1247.39,266.18 M1262.41,260.60 L1270.29,257.67 M1285.71,251.94 L1293.59,249.01 M1308.86,243.34 L1316.74,240.41 M1331.91,234.77 L1339.79,231.85 M1354.86,226.25 L1362.74,223.32 M1365.26,222.38 L1373.14,219.46 M1388.16,213.87 L1396.04,210.95" stroke-width="4.9"/>
<path d="M505.85,556.45 L513.25,552.48 M529.08,544.37 L536.62,540.65" stroke-width="5.0"/>
<path d="M482.99,569.52 L490.21,565.24" stroke-width="5.1"/>
<path d="M467.12,579.53 L474.18,574.97" stroke-width="5.2"/>
<path d="M444.59,595.55 L451.31,590.51" stroke-width="5.4"/>
<path d="M421.92,614.58 L428.18,608.97" stroke-width="5.6"/>
<path d="M400.62,636.24 L406.28,630.05" stroke-width="5.9"/>
<path d="M382.86,658.17 L387.94,651.47" stroke-width="6.0"/>
<path d="M366.57,682.46 L371.03,675.34" stroke-width="6.1"/>
<path d="M353.18,706.28 L357.12,698.86" stroke-width="6.3"/>
<path d="M341.27,731.18 L344.73,723.53" stroke-width="6.5"/>
<path d="M319.86,787.32 L322.54,779.36 M330.28,757.92 L333.32,750.09" stroke-width="6.6"/>
<path d="M310.52,817.74 L312.88,809.68" stroke-width="6.7"/>
<path d="M302.40,847.91 L304.50,839.78" stroke-width="6.8"/>
<path d="M295.11,878.48 L296.99,870.29" stroke-width="6.9"/>
<path d="M264.30,1061.98 L265.35,1053.64 M268.21,1031.97 L269.36,1023.65 M272.59,1001.28 L273.85,992.98 M277.56,969.65 L278.94,961.37 M282.74,939.71 L284.26,931.45 M288.66,908.79 L290.34,900.56" stroke-width="7.0"/>
</g>
<g fill="#000">
<circle cx="266.60" cy="1046.30" r="7.0"/>
<circle cx="304.49" cy="839.40" r="7.0"/>
<circle cx="342.38" cy="718.90" r="7.0"/>
<circle cx="380.27" cy="644.70" r="7.0"/>
<circle cx="418.16" cy="604.00" r="7.0"/>
<circle cx="456.05" cy="565.90" r="7.0"/>
<circle cx="493.94" cy="531.30" r="7.0"/>
<circle cx="531.83" cy="510.10" r="7.0"/>
<circle cx="569.72" cy="492.80" r="7.0"/>
<circle cx="607.61" cy="478.00" r="7.0"/>
<circle cx="645.50" cy="462.90" r="7.0"/>
<circle cx="683.39" cy="448.20" r="7.0"/>
<circle cx="721.28" cy="439.30" r="7.0"/>
<circle cx="759.17" cy="425.70" r="7.0"/>
<circle cx="797.06" cy="414.40" r="7.0"/>
<circle cx="834.95" cy="403.50" r="7.0"/>
<circle cx="872.84" cy="392.50" r="7.0"/>
<circle cx="910.73" cy="380.80" r="7.0"/>
<circle cx="948.62" cy="369.00" r="7.0"/>
<circle cx="986.51" cy="356.80" r="7.0"/>
<circle cx="1024.40" cy="345.10" r="7.0"/>
<circle cx="1062.29" cy="334.60" r="7.0"/>
<circle cx="1100.18" cy="323.00" r="7.0"/>
<circle cx="1138.07" cy="311.80" r="7.0"/>
<circle cx="1175.96" cy="300.20" r="7.0"/>
<circle cx="1213.85" cy="288.50" r="7.0"/>
<circle cx="1251.74" cy="277.90" r="7.0"/>
<circle cx="1289.63" cy="265.70" r="7.0"/>
<circle cx="1327.52" cy="254.00" r="7.0"/>
<circle cx="1365.41" cy="242.60" r="7.0"/>
<circle cx="1403.30" cy="231.00" r="7.0"/>
</g></g>
<g fill="none">
<path d="M932.8,656.4 h27.7 M984.5,656.4 h27.7 M1036.7,656.4 h27.7" stroke="#f00" stroke-width="6.1"/>
<path d="M932.8,726.2 H1064.5" stroke="#00f" stroke-width="6.1"/>
<path d="M933.0,796.5 h9.4 M963.3,796.5 h9.4 M994.6,796.5 h9.4 M1025.3,796.5 h9.4 M1056.2,796.5 h8.3" stroke="#f0f" stroke-width="6.1"/>
</g>
<circle cx="999.9" cy="858.7" r="7.0" fill="#000"/>
<g class="serif thin" font-size="57.0" fill="#000">
<text x="1076" y="676.2"><tspan font-style="italic">N</tspan><tspan dx="-1.2">=</tspan><tspan dx="1.2">1(L1/L2)</tspan></text>
<text x="1076" y="745.7"><tspan font-style="italic">N</tspan><tspan dx="-1.2">=</tspan><tspan dx="1.2">1(L2/L3)</tspan></text>
<text x="1076" y="815.4"><tspan font-style="italic">N</tspan><tspan dx="-1.2">=</tspan><tspan dx="1.2">2</tspan></text>
<text x="1080.2" y="878.8" font-size="57.3">Test values</text>
</g>
</g>
</svg></body></html>
